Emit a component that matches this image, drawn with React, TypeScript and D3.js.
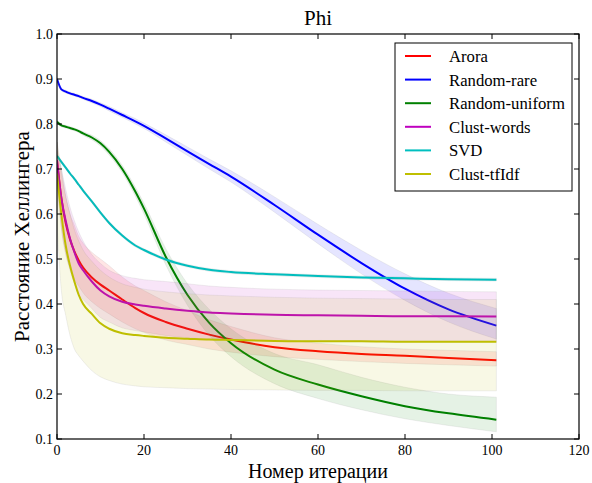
import React from 'react';
import * as d3 from 'd3';

// iteration numbers where values were read
const iters = [0, 1, 2, 3, 4, 5, 6, 8, 10, 12, 15, 18, 20, 25, 30, 35, 40, 50, 60, 70, 80, 90, 101];

const aroraMean = [0.72, 0.635, 0.58, 0.543, 0.517, 0.497, 0.481, 0.459, 0.443, 0.43, 0.41, 0.391, 0.38, 0.36, 0.345, 0.332, 0.321, 0.304, 0.295, 0.289, 0.285, 0.28, 0.275];
const aroraLo = [0.66, 0.57, 0.51, 0.48, 0.455, 0.44, 0.425, 0.405, 0.39, 0.378, 0.36, 0.345, 0.337, 0.32, 0.31, 0.3, 0.293, 0.283, 0.277, 0.272, 0.268, 0.265, 0.262];
const aroraHi = [0.76, 0.69, 0.64, 0.6, 0.575, 0.55, 0.535, 0.515, 0.5, 0.485, 0.46, 0.44, 0.43, 0.405, 0.385, 0.365, 0.35, 0.325, 0.313, 0.305, 0.3, 0.297, 0.294];

const rareMean = [0.9, 0.877, 0.872, 0.868, 0.865, 0.862, 0.858, 0.851, 0.843, 0.834, 0.82, 0.806, 0.796, 0.768, 0.739, 0.711, 0.683, 0.62, 0.554, 0.491, 0.434, 0.388, 0.352];
const rareLo = [0.897, 0.874, 0.869, 0.865, 0.862, 0.859, 0.855, 0.847, 0.839, 0.829, 0.815, 0.8, 0.79, 0.76, 0.73, 0.7, 0.671, 0.604, 0.534, 0.467, 0.408, 0.36, 0.322];
const rareHi = [0.903, 0.88, 0.875, 0.871, 0.868, 0.865, 0.861, 0.855, 0.847, 0.839, 0.825, 0.812, 0.802, 0.776, 0.749, 0.722, 0.696, 0.638, 0.577, 0.519, 0.467, 0.424, 0.39];

const uniformMean = [0.805, 0.797, 0.794, 0.791, 0.788, 0.784, 0.779, 0.77, 0.757, 0.738, 0.7, 0.65, 0.612, 0.505, 0.42, 0.358, 0.313, 0.254, 0.221, 0.195, 0.173, 0.157, 0.143];
const uniformLo = [0.802, 0.794, 0.791, 0.788, 0.785, 0.781, 0.775, 0.765, 0.751, 0.731, 0.692, 0.64, 0.6, 0.487, 0.397, 0.33, 0.283, 0.223, 0.19, 0.165, 0.145, 0.13, 0.116];
const uniformHi = [0.808, 0.8, 0.797, 0.794, 0.791, 0.787, 0.783, 0.775, 0.763, 0.745, 0.708, 0.66, 0.624, 0.523, 0.445, 0.388, 0.345, 0.29, 0.265, 0.237, 0.215, 0.2, 0.193];

const wordsMean = [0.72, 0.635, 0.585, 0.545, 0.515, 0.49, 0.475, 0.45, 0.43, 0.417, 0.405, 0.399, 0.396, 0.39, 0.385, 0.381, 0.379, 0.376, 0.375, 0.374, 0.373, 0.373, 0.372];
const wordsLo = [0.7, 0.57, 0.515, 0.475, 0.445, 0.42, 0.41, 0.39, 0.37, 0.36, 0.347, 0.341, 0.338, 0.33, 0.325, 0.322, 0.321, 0.319, 0.319, 0.318, 0.317, 0.317, 0.317];
const wordsHi = [0.74, 0.7, 0.655, 0.615, 0.585, 0.56, 0.54, 0.51, 0.49, 0.475, 0.463, 0.457, 0.454, 0.45, 0.445, 0.44, 0.437, 0.433, 0.431, 0.43, 0.429, 0.428, 0.427];

const svdMean = [0.729, 0.716, 0.703, 0.69, 0.678, 0.665, 0.652, 0.628, 0.603, 0.58, 0.552, 0.53, 0.52, 0.499, 0.485, 0.476, 0.471, 0.466, 0.462, 0.459, 0.457, 0.455, 0.454];
const svdLo = svdMean.map(v => v - 0.003);
const svdHi = svdMean.map(v => v + 0.003);

const tfidfMean = [0.69, 0.6, 0.53, 0.485, 0.45, 0.42, 0.4, 0.378, 0.357, 0.345, 0.335, 0.331, 0.329, 0.325, 0.323, 0.321, 0.32, 0.318, 0.317, 0.317, 0.316, 0.316, 0.316];
const tfidfLo = [0.58, 0.43, 0.375, 0.33, 0.3, 0.285, 0.273, 0.252, 0.238, 0.23, 0.222, 0.218, 0.216, 0.214, 0.212, 0.211, 0.21, 0.209, 0.208, 0.208, 0.207, 0.207, 0.207];
const tfidfHi = [0.76, 0.7, 0.64, 0.6, 0.565, 0.54, 0.52, 0.495, 0.475, 0.46, 0.445, 0.437, 0.433, 0.427, 0.423, 0.42, 0.418, 0.415, 0.413, 0.412, 0.411, 0.41, 0.41];

const seriesNames = ['Arora', 'Random-rare', 'Random-uniform', 'Clust-words', 'SVD', 'Clust-tfIdf'];
const seriesColors = ['#ff0000', '#0000ff', '#008000', '#bf00bf', '#00bfbf', '#bfbf00'];
const means = [aroraMean, rareMean, uniformMean, wordsMean, svdMean, tfidfMean];
const lows = [aroraLo, rareLo, uniformLo, wordsLo, svdLo, tfidfLo];
const highs = [aroraHi, rareHi, uniformHi, wordsHi, svdHi, tfidfHi];

const xTicks = [0, 20, 40, 60, 80, 100, 120];
const yTicks = [0.1, 0.2, 0.3, 0.4, 0.5, 0.6, 0.7, 0.8, 0.9, 1.0];

const W = 592, H = 483;
const margin = { top: 34, right: 13, bottom: 44, left: 57 };
const font = "'Liberation Serif', 'DejaVu Serif', serif";

export default function App() {
  const x = d3.scaleLinear().domain([0, 120]).range([margin.left, W - margin.right]);
  const y = d3.scaleLinear().domain([0.1, 1.0]).range([H - margin.bottom, margin.top]);

  const line = d3.line<number>()
    .x((_, i) => x(iters[i]))
    .y(d => y(d))
    .curve(d3.curveMonotoneX);

  const area = (lo: number[], hi: number[]) =>
    d3.area<number>()
      .x((_, i) => x(iters[i]))
      .y0((_, i) => y(lo[i]))
      .y1((_, i) => y(hi[i]))
      .curve(d3.curveMonotoneX)(lo);

  const x0 = x(0), x1 = x(120), yTop = y(1.0), yBot = y(0.1);
  const tickLen = 5;

  return (
    <div style={{ position: 'absolute', left: 0, top: 0 }}>
      <svg width={W} height={H} style={{ display: 'block', background: '#fff', fontFamily: font }}>
        <defs>
          <clipPath id="plot">
            <rect x={x0} y={yTop} width={x1 - x0} height={yBot - yTop} />
          </clipPath>
        </defs>
        <g clipPath="url(#plot)">
          {means.map((m, k) => (
            <g key={seriesNames[k]}>
              <path d={line(m) || ''} fill="none" stroke={seriesColors[k]} strokeWidth={2} />
              <path d={area(lows[k], highs[k]) || ''} fill={seriesColors[k]} fillOpacity={0.1}
                stroke="#808080" strokeOpacity={0.12} strokeWidth={1} />
            </g>
          ))}
        </g>

        {/* frame */}
        <rect x={x0} y={yTop} width={x1 - x0} height={yBot - yTop} fill="none" stroke="#000" strokeWidth={1.2} />

        {/* x ticks */}
        {xTicks.map(t => (
          <g key={'x' + t}>
            <line x1={x(t)} x2={x(t)} y1={yBot} y2={yBot - tickLen} stroke="#000" />
            <line x1={x(t)} x2={x(t)} y1={yTop} y2={yTop + tickLen} stroke="#000" />
            <text x={x(t)} y={yBot + 16} textAnchor="middle" style={{ fontSize: 14 }}>{t}</text>
          </g>
        ))}
        {/* y ticks */}
        {yTicks.map(t => (
          <g key={'y' + t}>
            <line x1={x0} x2={x0 + tickLen} y1={y(t)} y2={y(t)} stroke="#000" />
            <line x1={x1} x2={x1 - tickLen} y1={y(t)} y2={y(t)} stroke="#000" />
            <text x={x0 - 4} y={y(t) + 5} textAnchor="end" style={{ fontSize: 14 }}>{d3.format('.1f')(t)}</text>
          </g>
        ))}

        <text x={(x0 + x1) / 2} y={25} textAnchor="middle" style={{ fontSize: 21 }}>Phi</text>
        <text x={(x0 + x1) / 2} y={478} textAnchor="middle" style={{ fontSize: 20 }}>Номер итерации</text>
        <text transform={`translate(29, ${(yTop + yBot) / 2}) rotate(-90)`} textAnchor="middle" style={{ fontSize: 21 }}>
          Расстояние Хеллингера
        </text>

        {/* legend */}
        <g>
          <rect x={395} y={43} width={177} height={148} fill="#fff" stroke="#000" strokeWidth={1} />
          {seriesNames.map((name, k) => {
            const ly = 56 + k * 23.6;
            return (
              <g key={'l' + name}>
                <line x1={405} x2={431} y1={ly} y2={ly} stroke={seriesColors[k]} strokeWidth={2} />
                <text x={449} y={ly + 6} style={{ fontSize: 16.7 }}>{name}</text>
              </g>
            );
          })}
        </g>
      </svg>
    </div>
  );
}
